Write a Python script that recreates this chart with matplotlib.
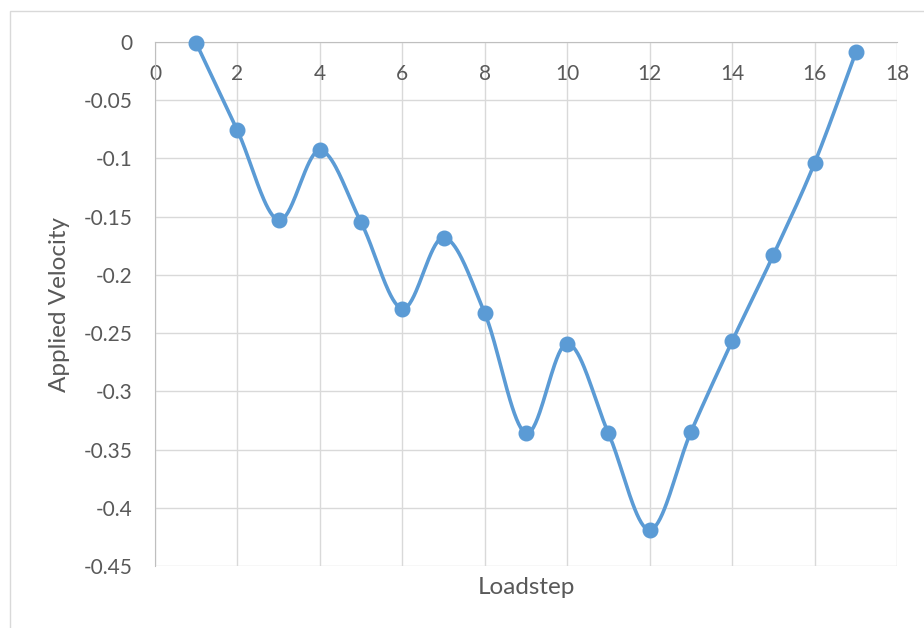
import numpy as np
import matplotlib
matplotlib.use("Agg")
import matplotlib.pyplot as plt
from matplotlib.patches import Rectangle

plt.rcParams["font.family"] = ["Lato", "DejaVu Sans"]

# Applied velocity per load step
loadstep = [1, 2, 3, 4, 5, 6, 7, 8, 9, 10, 11, 12, 13, 14, 15, 16, 17]
velocity = [-0.001, -0.076, -0.153, -0.093, -0.155, -0.229, -0.168, -0.233,
            -0.336, -0.259, -0.336, -0.419, -0.335, -0.257, -0.183, -0.104, -0.009]

x_ticks = [0, 2, 4, 6, 8, 10, 12, 14, 16, 18]
y_ticks = [0, -0.05, -0.1, -0.15, -0.2, -0.25, -0.3, -0.35, -0.4, -0.45]
y_tick_labels = ["0", "-0.05", "-0.1", "-0.15", "-0.2", "-0.25", "-0.3", "-0.35", "-0.4", "-0.45"]

LINE_BLUE = "#5B9BD5"
TEXT_GREY = "#595959"
GRID_GREY = "#D9D9D9"
AXIS_GREY = "#BFBFBF"


def smooth_curve(xs, ys, n=40):
    """Cubic Bezier through each point, Catmull-Rom style control points."""
    p = np.column_stack([xs, ys]).astype(float)
    pts = np.vstack([p[0], p, p[-1]])
    t = np.linspace(0, 1, n)[:, None]
    out = []
    for i in range(1, len(pts) - 2):
        p0, p1, p2, p3 = pts[i - 1], pts[i], pts[i + 1], pts[i + 2]
        c1 = p1 + (p2 - p0) / 6.0
        c2 = p2 - (p3 - p1) / 6.0
        seg = ((1 - t) ** 3) * p1 + 3 * ((1 - t) ** 2) * t * c1 \
            + 3 * (1 - t) * t ** 2 * c2 + t ** 3 * p2
        out.append(seg if i == 1 else seg[1:])
    curve = np.vstack(out)
    return curve[:, 0], curve[:, 1]


fig = plt.figure(figsize=(9.24, 6.28), dpi=100)
W, H = 924, 628

# chart area border
fig.patches.append(Rectangle((10 / W, -0.1), 1.2, 1 - 11 / H + 0.1,
                             transform=fig.transFigure, fill=False,
                             edgecolor=GRID_GREY, linewidth=1.0))

ax = fig.add_axes([155 / W, 1 - 566 / H, (897 - 155) / W, (566 - 42) / H])

sx, sy = smooth_curve(loadstep, velocity)
ax.plot(sx, sy, color=LINE_BLUE, linewidth=2.6, solid_capstyle="round",
        zorder=3, clip_on=False)
ax.plot(loadstep, velocity, linestyle="none", marker="o", markersize=10.5,
        color=LINE_BLUE, zorder=4, clip_on=False)

ax.set_xlim(0, 18)
ax.set_ylim(-0.45, 0)
ax.set_xticks(x_ticks)
ax.set_yticks(y_ticks)
ax.set_yticklabels(y_tick_labels)

ax.grid(True, color=GRID_GREY, linewidth=1.0, zorder=0)
ax.set_axisbelow(True)

# x axis crosses at y = 0 (top of the plot)
ax.spines["bottom"].set_position(("data", 0))
ax.spines["bottom"].set_color(AXIS_GREY)
ax.spines["left"].set_color(AXIS_GREY)
ax.spines["top"].set_visible(False)
ax.spines["right"].set_visible(False)

ax.tick_params(axis="x", length=0, pad=15.5, labelsize=15, labelcolor=TEXT_GREY)
ax.tick_params(axis="y", length=0, pad=16, labelsize=15, labelcolor=TEXT_GREY)

fig.text(526 / W, 1 - 588 / H, "Loadstep", ha="center", va="center",
         fontsize=17.5, color=TEXT_GREY)
fig.text(60 / W, 1 - 304 / H, "Applied Velocity", ha="center", va="center",
         rotation=90, fontsize=17.5, color=TEXT_GREY)

fig.savefig("out.png", dpi=100)
